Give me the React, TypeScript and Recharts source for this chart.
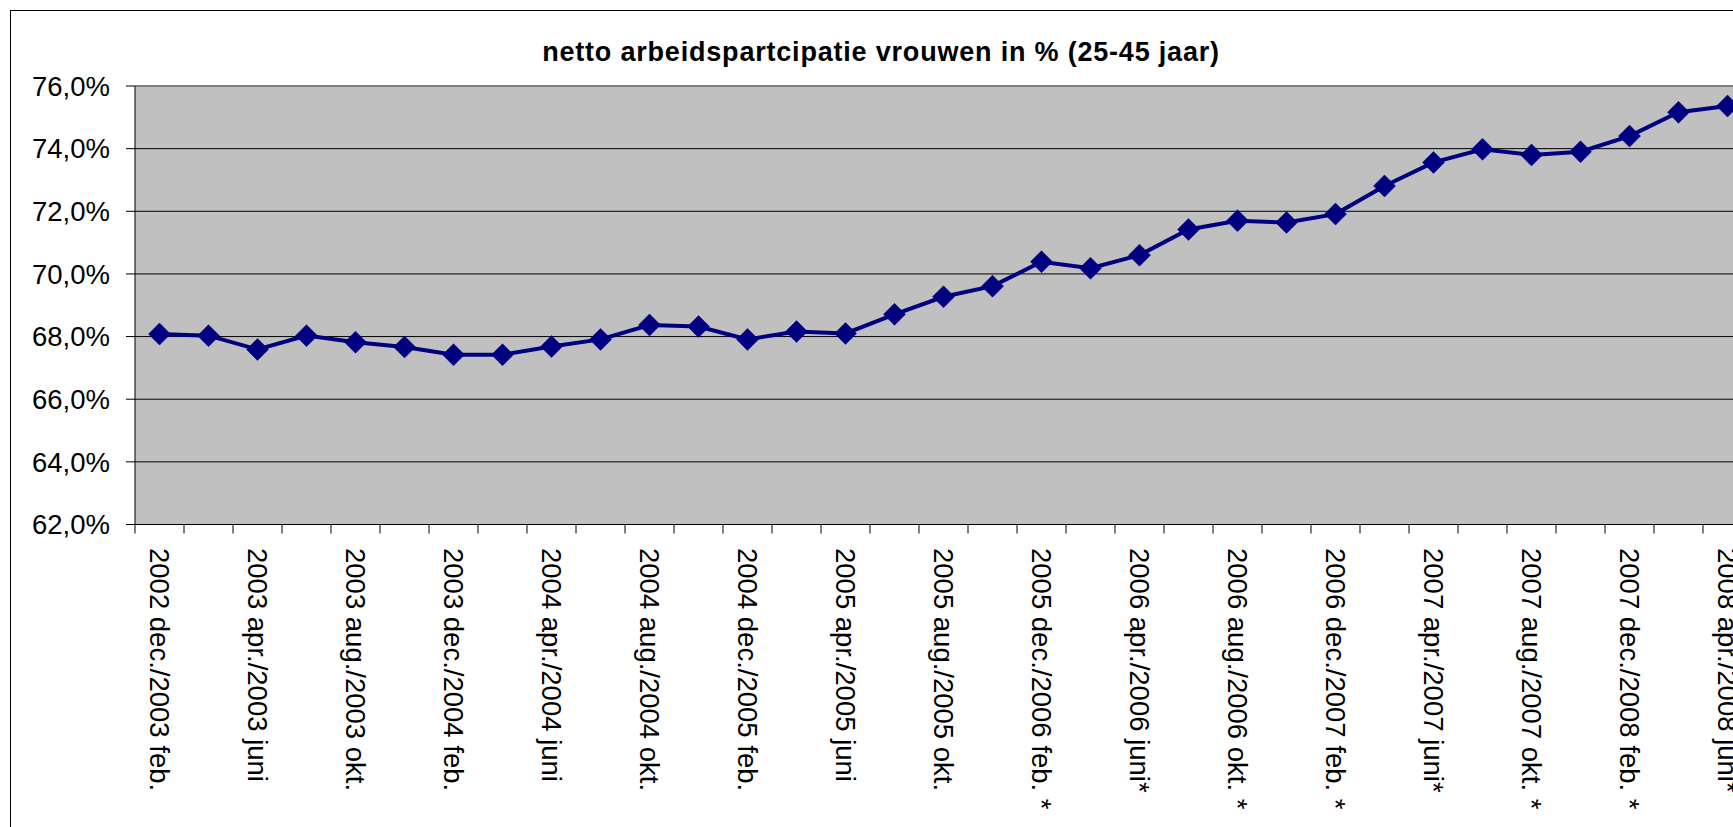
import React from 'react';
import { LineChart, Line, XAxis, YAxis, CartesianGrid, ReferenceLine } from 'recharts';

// periods (two-monthly rolling), only every other one is labelled in the original
const periods = [
  '2002 dec./2003 feb.', '2003 feb./2003 apr.', '2003 apr./2003 juni', '2003 juni/2003 aug.',
  '2003 aug./2003 okt.', '2003 okt./2003 dec.', '2003 dec./2004 feb.', '2004 feb./2004 apr.',
  '2004 apr./2004 juni', '2004 juni/2004 aug.', '2004 aug./2004 okt.', '2004 okt./2004 dec.',
  '2004 dec./2005 feb.', '2005 feb./2005 apr.', '2005 apr./2005 juni', '2005 juni/2005 aug.',
  '2005 aug./2005 okt.', '2005 okt./2005 dec.', '2005 dec./2006 feb. *', '2006 feb./2006 apr. *',
  '2006 apr./2006 juni*', '2006 juni/2006 aug.*', '2006 aug./2006 okt. *', '2006 okt./2006 dec. *',
  '2006 dec./2007 feb. *', '2007 feb./2007 apr. *', '2007 apr./2007 juni*', '2007 juni/2007 aug.*',
  '2007 aug./2007 okt. *', '2007 okt./2007 dec. *', '2007 dec./2008 feb. *', '2008 feb./2008 apr. *',
  '2008 apr./2008 juni*',
];

const participatie = [
  68.08, 68.03, 67.59, 68.03, 67.82, 67.67, 67.42, 67.42, 67.68, 67.91, 68.37,
  68.32, 67.91, 68.16, 68.10, 68.71, 69.27, 69.61, 70.39, 70.18, 70.60, 71.42,
  71.70, 71.64, 71.91, 72.81, 73.56, 73.98, 73.80, 73.90, 74.40, 75.16, 75.36,
];

const yTicks = [62, 64, 66, 68, 70, 72, 74, 76];

const title = 'netto arbeidspartcipatie vrouwen in % (25-45 jaar)';

const data = periods.map((p, i) => ({ period: p, waarde: participatie[i] }));

const FONT = '"Liberation Sans", Arial, sans-serif';
const NAVY = '#000080';
const BAND = 49;

const fmtPct = (v: number) => `${v.toFixed(1).replace('.', ',')}%`;

const CategoryTick = (props: any) => {
  const { x, y, payload, index } = props;
  const i = payload?.index ?? index;
  const left = x - BAND / 2;
  return (
    <g>
      <line x1={left} y1={y} x2={left} y2={y + 9} stroke="#000" strokeWidth={1} />
      {i % 2 === 0 && (
        <text
          transform={`translate(${x},${y + 23.5}) rotate(90)`}
          dy="0.36em"
          textAnchor="start"
          fontSize={27.5}
          fontFamily={FONT}
          fill="#000"
        >
          {payload.value}
        </text>
      )}
    </g>
  );
};

const Diamond = (props: any) => {
  const { cx, cy } = props;
  if (cx == null || cy == null) return null;
  const r = 11;
  return (
    <path
      d={`M${cx},${cy - r} L${cx + r},${cy} L${cx},${cy + r} L${cx - r},${cy} Z`}
      fill={NAVY}
      stroke={NAVY}
      strokeWidth={0.5}
    />
  );
};

export default function App() {
  return (
    <div
      style={{
        position: 'fixed',
        left: 0,
        top: 0,
        width: 1733,
        height: 827,
        overflow: 'hidden',
        background: '#fff',
        fontFamily: FONT,
      }}
    >
      <div
        style={{
          position: 'absolute',
          left: 10,
          top: 10,
          width: 1800,
          height: 900,
          border: '1px solid #000',
          background: '#fff',
        }}
      >
        <LineChart
          width={1800}
          height={900}
          data={data}
          margin={{ top: 75, right: 59, bottom: 86.5, left: 0 }}
        >
          <CartesianGrid
            horizontal
            vertical={false}
            stroke="#000"
            strokeWidth={1}
            fill="#C0C0C0"
            fillOpacity={1}
          />
          <XAxis
            dataKey="period"
            interval={0}
            height={300}
            padding={{ left: BAND / 2, right: BAND / 2 }}
            tickLine={false}
            tickSize={0}
            tickMargin={0}
            axisLine={{ stroke: '#000', strokeWidth: 1 }}
            tick={<CategoryTick />}
          />
          <YAxis
            width={124}
            domain={[62, 76]}
            ticks={yTicks}
            interval={0}
            allowDataOverflow
            tickFormatter={fmtPct}
            tickSize={9}
            tickMargin={16}
            tickLine={{ stroke: '#000' }}
            axisLine={{ stroke: '#000', strokeWidth: 1 }}
            tick={{ fontSize: 27.5, fill: '#000', fontFamily: FONT }}
          />
          <ReferenceLine y={76} stroke="#808080" strokeWidth={2} />
          <Line
            type="linear"
            dataKey="waarde"
            stroke={NAVY}
            strokeWidth={4}
            dot={<Diamond />}
            activeDot={false}
            isAnimationActive={false}
          />
        </LineChart>
        <div
          style={{
            position: 'absolute',
            left: 370,
            top: 28,
            width: 1000,
            textAlign: 'center',
            fontWeight: 'bold',
            fontSize: 27,
            lineHeight: '27px',
            letterSpacing: 0.8,
            color: '#000',
            whiteSpace: 'nowrap',
          }}
        >
          {title}
        </div>
      </div>
    </div>
  );
}
